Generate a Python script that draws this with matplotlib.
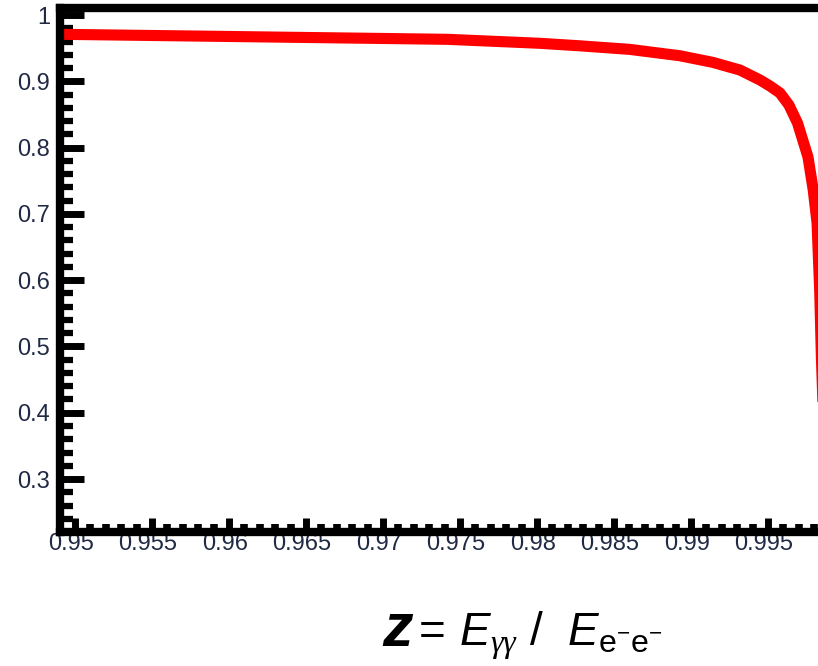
import matplotlib
matplotlib.use("Agg")
import matplotlib.pyplot as plt
import matplotlib.transforms as mtransforms
from matplotlib.ticker import MultipleLocator
import numpy as np

# curve: z = E_gg / E_ee and the plotted fraction
z_values = [0.9490, 0.9500, 0.9550, 0.9600, 0.9650, 0.9700, 0.9742, 0.9802,
            0.98279, 0.98604, 0.98929, 0.99143, 0.99318, 0.99448, 0.99513,
            0.99578, 0.99636, 0.99692, 0.99760, 0.99794, 0.99819, 0.99836,
            0.99847, 0.99857]
fraction = [0.9709, 0.9706, 0.9691, 0.9676, 0.9661, 0.9646, 0.9633, 0.9573,
            0.9535, 0.9481, 0.9385, 0.9285, 0.9170, 0.9020, 0.8929,
            0.8824, 0.8643, 0.8371, 0.7858, 0.7361, 0.6863, 0.5852,
            0.4842, 0.4163]

x_major_ticks = [0.95, 0.955, 0.96, 0.965, 0.97, 0.975, 0.98, 0.985, 0.99, 0.995]
y_major_ticks = [0.3, 0.4, 0.5, 0.6, 0.7, 0.8, 0.9, 1.0]
x_tick_labels = ["0.95", "0.955", "0.96", "0.965", "0.97", "0.975", "0.98",
                 "0.985", "0.99", "0.995"]
y_tick_labels = ["0.3", "0.4", "0.5", "0.6", "0.7", "0.8", "0.9", "1"]

plt.rcParams["font.family"] = ["Liberation Sans", "DejaVu Sans"]
plt.rcParams["mathtext.fontset"] = "custom"
plt.rcParams["mathtext.rm"] = "Liberation Sans"
plt.rcParams["mathtext.it"] = "Liberation Sans:italic"
plt.rcParams["mathtext.bf"] = "Liberation Sans:bold:italic"
plt.rcParams["mathtext.sf"] = "Liberation Serif:italic"

# the original is cut off on the right, so draw a wider canvas and crop it
W, H = 860, 666
fig = plt.figure(figsize=(W / 100, H / 100), dpi=100)
ax = fig.add_axes([60 / W, 134 / H, 770 / W, 524 / H])

ax.plot(z_values, fraction, color="#ff0000", linewidth=8,
        solid_capstyle="butt", solid_joinstyle="round")

ax.set_xlim(0.94903, 0.99903)
ax.set_ylim(0.2201, 1.01056)

ax.set_xticks(x_major_ticks)
ax.set_xticklabels(x_tick_labels)
ax.set_yticks(y_major_ticks)
ax.set_yticklabels(y_tick_labels)
ax.xaxis.set_minor_locator(MultipleLocator(0.001))
ax.yaxis.set_minor_locator(MultipleLocator(0.02))

for side in ["left", "top", "bottom", "right"]:
    ax.spines[side].set_linewidth(6)
    ax.spines[side].set_color("black")

label_color = "#202a44"
ax.tick_params(axis="y", which="major", direction="in", length=17, width=5,
               labelsize=17, pad=7, labelcolor=label_color)
ax.tick_params(axis="y", which="minor", direction="in", length=9, width=4.5)
ax.tick_params(axis="x", which="major", direction="in", length=10, width=5,
               labelsize=17, pad=1, labelcolor=label_color)
ax.tick_params(axis="x", which="minor", direction="in", length=6, width=5.5)
ax.tick_params(top=False, right=False, which="both")

# x tick labels sit a few pixels left of their ticks in the original
shift = mtransforms.ScaledTranslation(-4 / 100, 0, fig.dpi_scale_trans)
for label in ax.get_xticklabels():
    label.set_transform(label.get_transform() + shift)

# axis title under the plot: a big bold z, then the ratio
baseline = 1 - 646 / H
fig.text(382 / W, baseline, "z", fontsize=44, fontweight="bold",
         fontstyle="italic", ha="left", va="baseline", color="black")
fig.text(411 / W, baseline,
         r"$=\, E_{\mathsf{\gamma\gamma}}\ /\ \ E_{\mathrm{e}^{-}\mathrm{e}^{-}}$",
         fontsize=33, ha="left", va="baseline", color="black")

fig.canvas.draw()
pixels = np.asarray(fig.canvas.buffer_rgba())[:, :818]
plt.imsave("out.png", pixels)
plt.close(fig)
